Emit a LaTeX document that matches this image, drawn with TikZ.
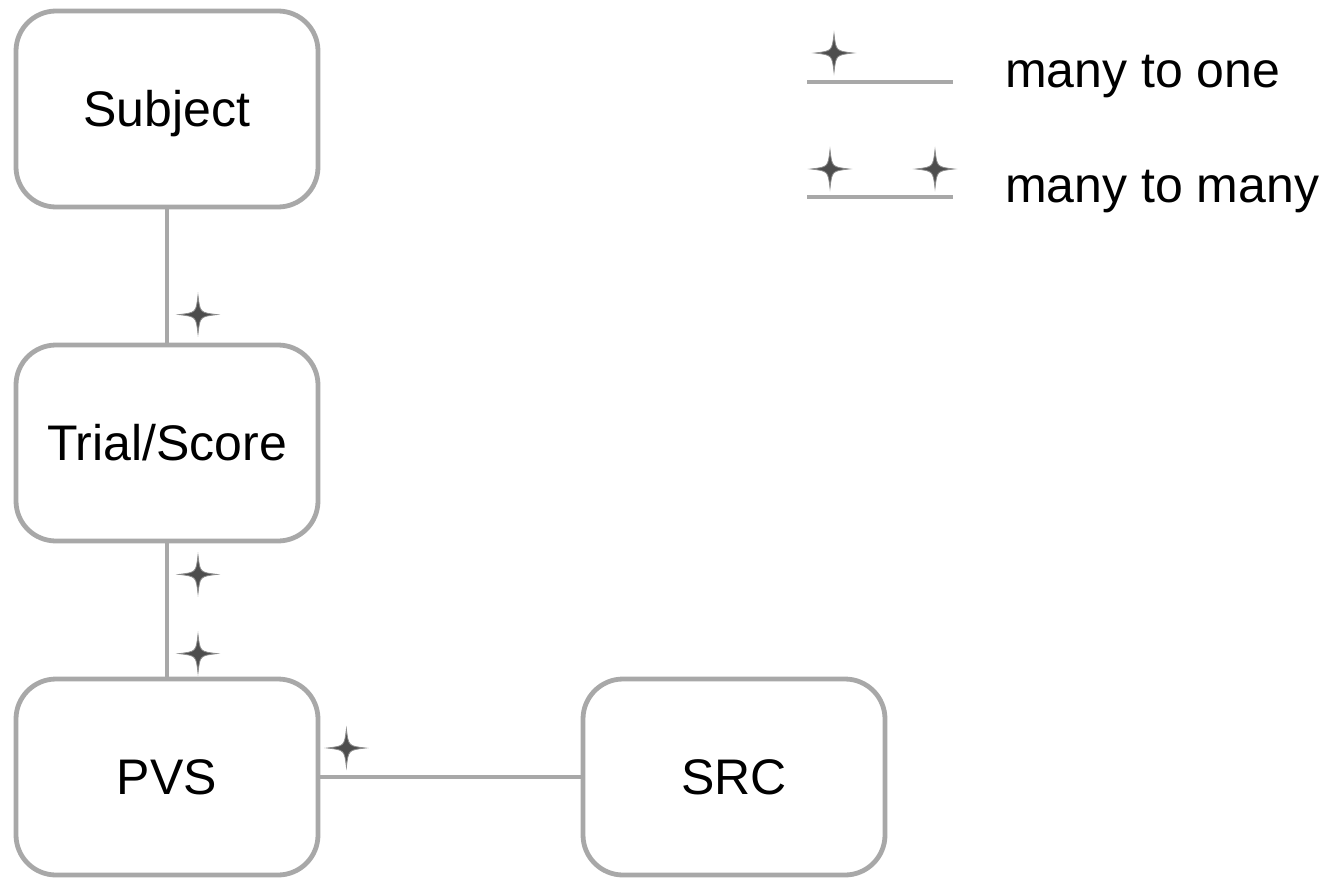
\documentclass[tikz,border=0pt]{standalone}
\usepackage{fontspec}
\setmainfont{Liberation Sans}
\usetikzlibrary{positioning}
\definecolor{linegray}{HTML}{A8A8A8}
\definecolor{stargray}{HTML}{4D4D4D}
\definecolor{starrim}{HTML}{8C8C8C}
\tikzset{
	entity/.style={draw=linegray, line width=3.6pt, rounded corners=30pt, fill=white,
		minimum width=226.5pt, minimum height=147pt, inner sep=0pt,
		text height=26.8pt, text depth=0pt,
		font=\fontsize{37.5}{45}\selectfont},
	relation/.style={draw=linegray, line width=3.6pt},
	legendtext/.style={anchor=base west, inner sep=0pt, font=\fontsize{37.5}{45}\selectfont},
	manymark/.pic={
		\filldraw[fill=stargray, draw=starrim, line width=0.6pt]
			(0,-19) .. controls (2,-2) .. (19,0) .. controls (2,2) .. (0,19)
			.. controls (-2,2) .. (-19,0) .. controls (-2,-2) .. cycle;
	}
}
\begin{document}
\begin{tikzpicture}[x=0.75pt, y=-0.75pt]
	\useasboundingbox (0,0) rectangle (1344,878);
	\node[entity] (subject) at (167, 109) {Subject};
	\node[entity] (trial) at (167, 443) {Trial/Score};
	\node[entity] (pvs) at (167, 777) {PVS};
	\node[entity] (src) at (734, 777) {SRC};
	\draw[relation] (subject) -- (trial);
	\draw[relation] (trial) -- (pvs);
	\draw[relation] (pvs) -- (src);
	\pic at ([shift={(31,-28)}]trial.north) {manymark};
	\pic at ([shift={(31,31)}]trial.south) {manymark};
	\pic at ([shift={(31,-23)}]pvs.north) {manymark};
	\pic at ([shift={(26,-29)}]pvs.east) {manymark};
	% legend
	\coordinate (oneA) at (807, 82);
	\coordinate (oneB) at (953, 82);
	\coordinate (manyA) at (807, 197);
	\coordinate (manyB) at (953, 197);
	\draw[relation] (oneA) -- (oneB);
	\draw[relation] (manyA) -- (manyB);
	\pic at ([shift={(27,-29)}]oneA) {manymark};
	\pic at ([shift={(23,-28)}]manyA) {manymark};
	\pic at ([shift={(-18,-28)}]manyB) {manymark};
	\node[legendtext] (oneText) at (1005, 87) {many to one};
	\node[legendtext] (manyText) at (1005, 202) {many to many};
\end{tikzpicture}
\end{document}
